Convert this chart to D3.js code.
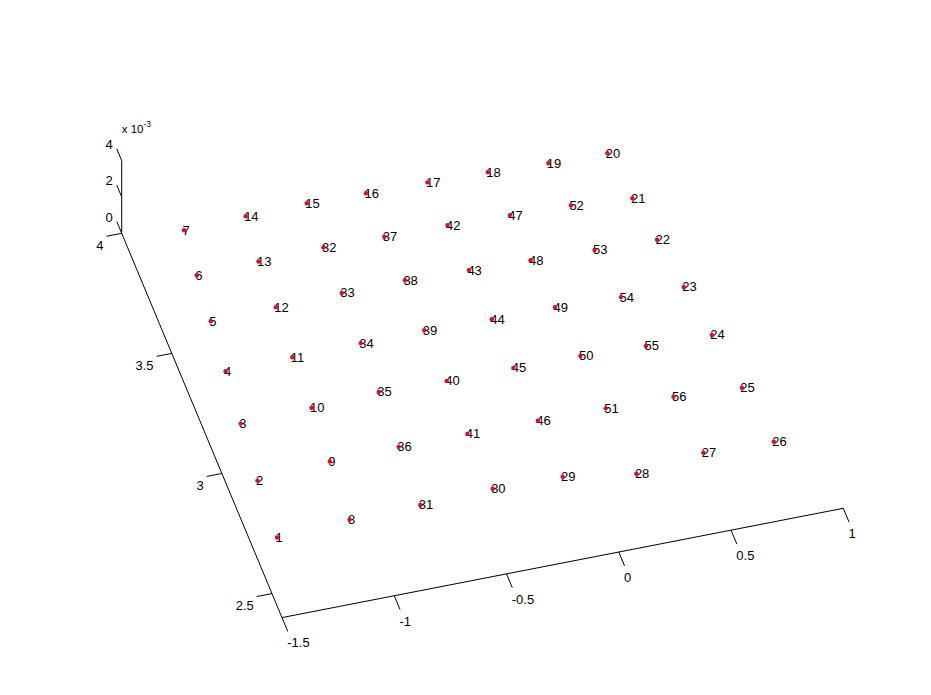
<!DOCTYPE html>
<html>
<head>
<meta charset="utf-8">
<script src="https://cdn.jsdelivr.net/npm/d3@7"></script>
<style>
  html, body { margin: 0; padding: 0; background: #fff; }
  svg { display: block; }
  text { font-family: "Liberation Sans", Arial, Helvetica, sans-serif; fill: #000; }
</style>
</head>
<body>
<svg id="chart" width="931" height="695"></svg>
<script>
// ---- data ----
const labels = d3.range(1, 57).map(String);
const xValues = [
  -1.383, -1.366, -1.337, -1.309, -1.284, -1.263, -1.238,
  -1.053, -1.035, -1.018, -1.010, -0.992, -0.985, -0.960,
  -0.686, -0.425, -0.153, 0.113, 0.378, 0.638,
  0.664, 0.694, 0.723, 0.756, 0.789, 0.828,
  0.519, 0.207, -0.102, -0.411, -0.737,
  -0.693, -0.696, -0.704, -0.714, -0.726,
  -0.424, -0.414, -0.420, -0.415, -0.421,
  -0.144, -0.133, -0.123, -0.118, -0.108,
  0.130, 0.138, 0.158, 0.179, 0.193,
  0.398, 0.419, 0.447, 0.466, 0.492
];
const yValues = [
  2.712, 2.946, 3.178, 3.391, 3.595, 3.782, 3.965,
  2.727, 2.965, 3.186, 3.395, 3.600, 3.789, 3.973,
  3.977, 3.971, 3.967, 3.961, 3.950, 3.944,
  3.752, 3.574, 3.372, 3.166, 2.940, 2.709,
  2.719, 2.688, 2.732, 2.738, 2.730,
  3.795, 3.605, 3.398, 3.196, 2.970,
  3.790, 3.607, 3.400, 3.188, 2.968,
  3.787, 3.598, 3.392, 3.188, 2.966,
  3.779, 3.590, 3.391, 3.184, 2.963,
  3.770, 3.581, 3.380, 3.173, 2.957
];
const zValues = labels.map(() => 0);

const xDomain = [-1.5, 1];
const yDomain = [2.4, 4];
const zDomain = [0, 0.004];
const xTicks = [-1.5, -1, -0.5, 0, 0.5, 1];
const xTickLabels = ["-1.5", "-1", "-0.5", "0", "0.5", "1"];
const yTicks = [2.5, 3, 3.5, 4];
const yTickLabels = ["2.5", "3", "3.5", "4"];
const zTicks = [0, 0.002, 0.004];
const zTickLabels = ["0", "2", "4"];

// ---- projection (orthographic 3D view) ----
const origin = [282, 617.6];          // screen of (xmin, ymin, zmin)
const vx = [561.3, -109.3];           // full x range vector
const vy = [-160.3, -384.3];          // full y range vector
const vz = [0, -72.7];                // full z range vector

const xs = d3.scaleLinear().domain(xDomain).range([0, 1]);
const ys = d3.scaleLinear().domain(yDomain).range([0, 1]);
const zs = d3.scaleLinear().domain(zDomain).range([0, 1]);

function proj(x, y, z) {
  const a = xs(x), b = ys(y), c = zs(z);
  return [origin[0] + a * vx[0] + b * vy[0] + c * vz[0],
          origin[1] + a * vx[1] + b * vy[1] + c * vz[1]];
}
function unit(v) { const l = Math.hypot(v[0], v[1]); return [v[0] / l, v[1] / l]; }

const svg = d3.select("#chart");
const g = svg.append("g");
const line = d3.line();

// axes lines
g.append("path").attr("d", line([proj(xDomain[0], yDomain[0], 0), proj(xDomain[1], yDomain[0], 0)]))
  .attr("stroke", "#000").attr("stroke-width", 1).attr("fill", "none");
g.append("path").attr("d", line([proj(xDomain[0], yDomain[0], 0), proj(xDomain[0], yDomain[1], 0)]))
  .attr("stroke", "#000").attr("stroke-width", 1).attr("fill", "none");
g.append("path").attr("d", line([proj(xDomain[0], yDomain[1], zDomain[0]), proj(xDomain[0], yDomain[1], zDomain[1])]))
  .attr("stroke", "#000").attr("stroke-width", 1).attr("fill", "none");

const uy = unit(vy), ux = unit(vx);

// x ticks (pointing toward front, -y)
xTicks.forEach((t, i) => {
  const p = proj(t, yDomain[0], 0);
  const e = [p[0] - uy[0] * 15, p[1] - uy[1] * 15];
  g.append("path").attr("d", line([p, e])).attr("stroke", "#000").attr("fill", "none");
  g.append("text").attr("x", e[0] - 0.5).attr("y", e[1] + 12.5)
    .attr("dominant-baseline", "middle").attr("text-anchor", "start")
    .attr("font-size", 13).text(xTickLabels[i]);
});

// y ticks (pointing left, -x)
yTicks.forEach((t, i) => {
  const p = proj(xDomain[0], t, 0);
  const e = [p[0] - ux[0] * 15.5, p[1] - ux[1] * 15.5];
  g.append("path").attr("d", line([p, e])).attr("stroke", "#000").attr("fill", "none");
  g.append("text").attr("x", e[0] - 3).attr("y", e[1] + 10.5)
    .attr("dominant-baseline", "middle").attr("text-anchor", "end")
    .attr("font-size", 13).text(yTickLabels[i]);
});

// z ticks (pointing back, +y)
zTicks.forEach((t, i) => {
  const p = proj(xDomain[0], yDomain[1], t);
  const e = [p[0] + uy[0] * 12.7, p[1] + uy[1] * 12.7];
  g.append("path").attr("d", line([p, e])).attr("stroke", "#000").attr("fill", "none");
  g.append("text").attr("x", e[0] - 4).attr("y", e[1] - 3.5)
    .attr("dominant-baseline", "middle").attr("text-anchor", "end")
    .attr("font-size", 13).text(zTickLabels[i]);
});

// exponent label
const zTop = proj(xDomain[0], yDomain[1], zDomain[1]);
const expo = g.append("text").attr("x", zTop[0]).attr("y", zTop[1] - 28).attr("font-size", 11.5);
expo.append("tspan").text("x 10");
expo.append("tspan").attr("dy", -6).attr("font-size", 8.5).text("-3");

// points and labels
const pts = labels.map((l, i) => ({ label: l, p: proj(xValues[i], yValues[i], zValues[i]) }));
g.selectAll("text.lbl").data(pts).enter().append("text")
  .attr("class", "lbl")
  .attr("x", d => d.p[0] - 1.5).attr("y", d => d.p[1] + 1)
  .attr("dominant-baseline", "middle")
  .attr("font-size", 13)
  .text(d => d.label);
g.selectAll("circle.pt").data(pts).enter().append("circle")
  .attr("class", "pt")
  .attr("cx", d => d.p[0]).attr("cy", d => d.p[1])
  .attr("r", 2.2).attr("fill", "#d4102c");
</script>
</body>
</html>
